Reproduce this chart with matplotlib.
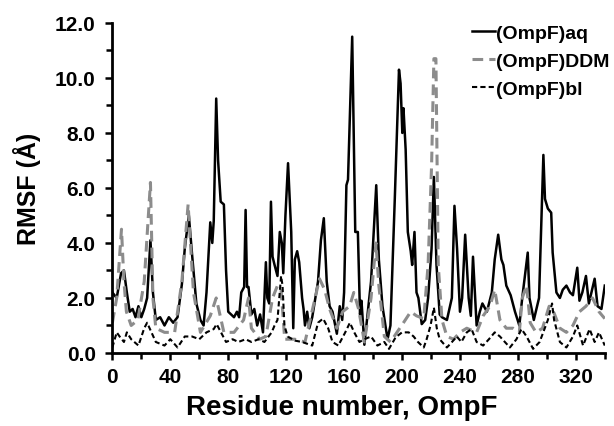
import matplotlib
matplotlib.use("Agg")
import matplotlib.pyplot as plt
from matplotlib.ticker import MultipleLocator, FormatStrFormatter

# --- data (residue number, RMSF in Å) ---
aq_x = [0, 3, 6, 8, 10, 12, 14, 16, 18, 20, 22, 24, 26.3, 28, 30, 33, 36, 39, 42, 45, 48, 50, 52.8, 55, 58, 60.8, 63, 65, 67.6, 69, 70, 71.7, 73, 74.8, 77, 78.5, 80, 82, 84, 86, 87.5, 89, 91, 92, 93, 94, 96, 98, 100, 102, 104, 106, 107, 108.3, 109.5, 110.6, 112, 114, 115.6, 117, 118, 119.5, 121.3, 123.5, 124.9, 126, 127.6, 129, 131, 132, 133, 134.5, 136, 138, 142, 144, 146, 148, 150, 152, 155, 157, 158.7, 160, 161.6, 162.7, 165.6, 167.7, 169.5, 171, 172, 174, 178.6, 182.2, 184, 186.5, 190, 192, 195, 197.9, 199, 200.2, 201, 202.5, 204, 206, 207, 208.6, 210, 211.3, 213.6, 216, 218, 220.4, 222, 223.8, 226, 227.6, 231, 234.4, 236.2, 238, 240, 241.5, 243.6, 246, 247.5, 249, 251.5, 253.7, 255.5, 258.6, 262, 264, 266.4, 268.6, 270, 272, 275, 278, 281, 283, 286.8, 288, 291, 294.6, 297.6, 298.7, 300.7, 303, 304, 306.6, 309, 311, 313.5, 316, 318, 321, 322.5, 324.5, 327, 329, 333, 335, 337.7, 340]
aq_y = [2.2, 2.0, 2.9, 3.0, 2.2, 1.5, 1.6, 1.3, 1.7, 1.3, 1.6, 2.0, 4.1, 2.2, 1.2, 1.3, 1.0, 1.3, 1.1, 1.3, 2.5, 3.8, 5.0, 3.6, 1.8, 1.2, 1.0, 2.2, 4.75, 4.0, 4.8, 9.25, 7.0, 5.5, 5.4, 3.0, 1.5, 1.4, 1.3, 1.5, 1.3, 2.2, 2.4, 5.2, 2.4, 2.4, 1.4, 1.6, 1.0, 1.4, 0.75, 3.3, 2.0, 1.8, 5.5, 3.5, 3.2, 2.8, 4.4, 4.0, 2.9, 5.0, 6.9, 4.4, 0.9, 3.4, 3.7, 3.3, 2.0, 1.6, 1.0, 1.5, 0.9, 1.3, 2.6, 4.1, 4.9, 2.6, 1.7, 1.5, 0.7, 1.7, 1.2, 2.2, 6.1, 6.3, 11.5, 4.4, 4.4, 1.4, 1.9, 0.3, 2.6, 6.1, 3.4, 1.7, 0.5, 1.0, 5.6, 10.3, 9.8, 8.0, 8.9, 7.4, 4.4, 3.7, 3.2, 4.4, 2.2, 2.0, 1.05, 1.2, 2.0, 3.8, 6.4, 3.2, 1.4, 1.3, 1.2, 2.0, 5.35, 3.8, 1.5, 2.0, 4.3, 2.0, 1.35, 3.5, 1.0, 1.5, 1.8, 1.5, 2.2, 3.4, 4.3, 3.4, 3.2, 2.45, 2.1, 1.5, 1.0, 2.0, 3.65, 2.0, 1.2, 2.0, 7.2, 5.6, 5.25, 5.1, 3.65, 2.2, 2.0, 2.3, 2.45, 2.2, 2.1, 3.1, 1.9, 2.2, 2.8, 1.8, 2.7, 1.7, 1.6, 2.45]

ddm_x = [0, 3, 6.3, 8, 9.7, 13, 17.6, 22, 26.3, 28, 30, 36, 43, 48, 52.3, 56, 60.8, 67.6, 71.7, 77, 84, 90.6, 94, 96, 101.7, 106, 110.6, 114, 116.5, 119, 123, 126, 133, 140, 143, 146.6, 150, 155, 159, 163.8, 166.7, 170, 174, 178.6, 182, 184, 187.8, 192, 196.5, 201, 206, 210, 215, 218, 220.4, 222, 223.4, 225, 227.6, 231, 235.6, 240, 244.7, 251.5, 256, 260.7, 264, 267.6, 272, 276.7, 281, 283, 286, 288.5, 292.5, 297, 301.6, 305, 309, 313.5, 318, 322.5, 327, 331.5, 336, 340]
ddm_y = [1.1, 2.0, 4.5, 2.6, 1.5, 1.0, 1.2, 2.6, 6.2, 2.0, 0.9, 0.75, 0.75, 2.6, 5.4, 2.2, 0.75, 1.35, 2.0, 0.75, 0.75, 1.2, 2.0, 0.9, 0.5, 0.6, 2.0, 2.45, 2.3, 0.5, 0.5, 0.5, 0.4, 2.0, 2.7, 2.3, 1.6, 0.9, 1.5, 1.7, 2.2, 1.6, 0.4, 2.0, 4.0, 2.45, 0.6, 0.4, 0.75, 1.1, 1.5, 1.35, 1.25, 3.2, 6.8, 10.7, 10.7, 3.2, 1.2, 0.6, 0.5, 0.75, 0.9, 0.75, 1.35, 1.7, 2.3, 1.2, 0.9, 0.9, 0.75, 2.0, 2.45, 1.1, 0.75, 0.9, 1.7, 1.45, 0.9, 0.75, 1.0, 1.5, 1.7, 2.0, 1.5, 1.25]

bl_x = [0, 3, 5, 8, 10, 13, 18, 22, 24, 27, 30, 36, 40, 45, 50, 55, 60, 65, 70, 72, 75, 78.5, 83, 87, 92, 96, 101, 105, 110, 112, 114, 116.5, 117.5, 118.8, 121, 126, 131, 138, 142, 145.5, 149, 152, 156, 160.8, 164, 167, 170.6, 174, 178.6, 183, 187.8, 191, 195.6, 200, 204.6, 208, 211, 215, 217, 219.7, 222, 224, 226, 231, 234.5, 237.8, 241, 244.7, 248, 251.5, 256, 260, 264, 267.6, 271, 274.5, 279, 282.5, 286, 290.5, 295, 300.7, 303.6, 305, 309, 313.5, 318, 321, 325, 329.5, 333, 336, 340]
bl_y = [0.2, 0.75, 0.6, 0.4, 0.75, 0.5, 0.27, 0.9, 1.1, 0.75, 0.4, 0.27, 0.5, 0.2, 0.6, 0.6, 0.5, 0.75, 0.87, 1.05, 0.75, 0.4, 0.5, 0.4, 0.5, 0.4, 0.5, 0.4, 0.75, 1.0, 1.2, 2.8, 2.45, 1.0, 0.6, 0.45, 0.4, 0.27, 1.1, 1.25, 0.9, 0.4, 0.27, 0.75, 1.1, 0.75, 0.4, 0.5, 0.6, 0.27, 0.4, 0.15, 0.57, 0.75, 0.75, 0.6, 0.4, 0.2, 0.5, 1.0, 1.65, 0.9, 0.5, 0.2, 0.4, 0.6, 0.4, 0.75, 0.87, 0.4, 0.27, 0.5, 0.75, 0.6, 0.4, 0.2, 0.5, 0.87, 0.6, 0.15, 0.4, 1.2, 1.8, 1.2, 0.4, 0.2, 0.6, 1.0, 0.27, 0.87, 0.4, 0.75, 0.27]

labels = ["(OmpF)aq", "(OmpF)DDM", "(OmpF)bl"]

plt.rcParams['font.family'] = ['Liberation Sans', 'DejaVu Sans']
plt.rcParams['font.weight'] = 'bold'

fig = plt.figure(figsize=(6.14, 4.27), dpi=100)
ax = fig.add_axes([0.183, 0.171, 0.802, 0.773])

ax.plot(aq_x, aq_y, color='black', lw=1.8, label=labels[0])
ax.plot(ddm_x, ddm_y, color='#8c8c8c', lw=2.2, dashes=(3.5, 2), label=labels[1])
ax.plot(bl_x, bl_y, color='black', lw=1.5, dashes=(2.5, 1.5), label=labels[2])

ax.set_xlim(0, 340)
ax.set_ylim(0, 12)
ax.xaxis.set_major_locator(MultipleLocator(40))
ax.xaxis.set_minor_locator(MultipleLocator(20))
ax.yaxis.set_major_locator(MultipleLocator(2))
ax.yaxis.set_minor_locator(MultipleLocator(1))
ax.yaxis.set_major_formatter(FormatStrFormatter('%.1f'))

for s in ['top', 'right']:
    ax.spines[s].set_visible(False)
for s in ['left', 'bottom']:
    ax.spines[s].set_linewidth(2)
ax.tick_params(which='both', direction='out', width=1.8, labelsize=15)
ax.tick_params(axis='x', pad=5)
ax.tick_params(axis='y', pad=7)
ax.tick_params(which='major', length=5)
ax.tick_params(which='minor', length=4)
for t in ax.get_xticklabels() + ax.get_yticklabels():
    t.set_fontweight('bold')

ax.set_xlabel("Residue number, OmpF", fontsize=20, fontweight='bold')
ax.xaxis.set_label_coords(0.465, -0.125)
ax.set_ylabel("RMSF (Å)", fontsize=18, fontweight='bold', labelpad=10)

leg = ax.legend(loc='upper right', bbox_to_anchor=(1.045, 1.05), frameon=False,
                handlelength=1.2, handletextpad=0.05, labelspacing=0.55,
                prop={'weight': 'bold', 'size': 14})

fig.savefig("out.png", dpi=100)
